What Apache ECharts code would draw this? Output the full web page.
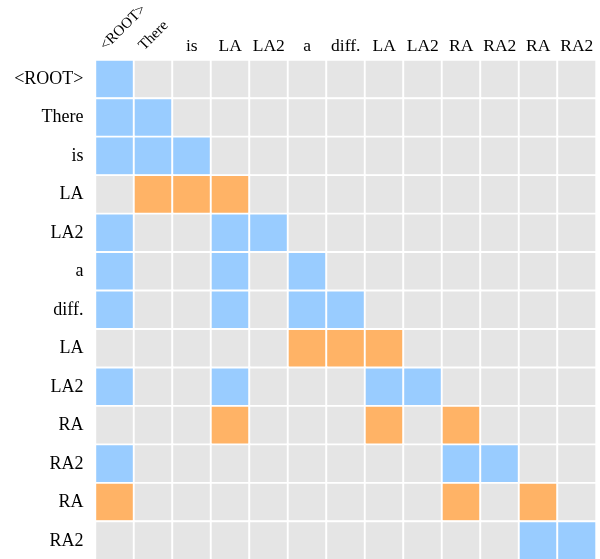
<!DOCTYPE html>
<html>
<head>
<meta charset="utf-8">
<script src="https://cdn.jsdelivr.net/npm/echarts@6/dist/echarts.min.js"></script>
<style>
html,body{margin:0;padding:0;background:#fff;}
#chart{width:600px;height:559px;}
</style>
</head>
<body>
<div id="chart"></div>
<script>
// Token labels (columns left-to-right, rows top-to-bottom)
var tokens = ['<ROOT>', 'There', 'is', 'LA', 'LA2', 'a', 'diff.', 'LA', 'LA2', 'RA', 'RA2', 'RA', 'RA2'];
// Indices of column labels drawn rotated
var rotatedCols = [0, 1];
// Cell kinds: 0 = empty, 1 = attend (blue), 2 = arc (orange)
var row0  = [1,0,0,0,0,0,0,0,0,0,0,0,0];
var row1  = [1,1,0,0,0,0,0,0,0,0,0,0,0];
var row2  = [1,1,1,0,0,0,0,0,0,0,0,0,0];
var row3  = [0,2,2,2,0,0,0,0,0,0,0,0,0];
var row4  = [1,0,0,1,1,0,0,0,0,0,0,0,0];
var row5  = [1,0,0,1,0,1,0,0,0,0,0,0,0];
var row6  = [1,0,0,1,0,1,1,0,0,0,0,0,0];
var row7  = [0,0,0,0,0,2,2,2,0,0,0,0,0];
var row8  = [1,0,0,1,0,0,0,1,1,0,0,0,0];
var row9  = [0,0,0,2,0,0,0,2,0,2,0,0,0];
var row10 = [1,0,0,0,0,0,0,0,0,1,1,0,0];
var row11 = [2,0,0,0,0,0,0,0,0,2,0,2,0];
var row12 = [0,0,0,0,0,0,0,0,0,0,0,1,1];
var rows = [row0,row1,row2,row3,row4,row5,row6,row7,row8,row9,row10,row11,row12];

var data = [];
rows.forEach(function (r, y) {
  r.forEach(function (v, x) { data.push([x, y, v]); });
});

var labelFont = {fontFamily: '"Liberation Serif", "Times New Roman", serif', color: '#000'};

var chart = echarts.init(document.getElementById('chart'), null, {renderer: 'canvas'});
chart.setOption({
  animation: false,
  backgroundColor: '#fff',
  grid: [
    {left: 95.5, top: 60, width: 500.5, height: 500, outerBoundsMode: 'none', containLabel: false},
    {left: 83.5, top: 60, width: 500.5, height: 500, outerBoundsMode: 'none', containLabel: false}
  ],
  xAxis: [
    {
      type: 'category', gridIndex: 0, position: 'top', data: tokens,
      axisLine: {show: false}, axisTick: {show: false}, splitLine: {show: false},
      axisLabel: Object.assign({
        interval: 0, fontSize: 17.5, margin: 5,
        formatter: function (v, i) { return rotatedCols.indexOf(i) >= 0 ? '' : v; }
      }, labelFont)
    },
    {
      type: 'category', gridIndex: 1, position: 'top', data: tokens,
      axisLine: {show: false}, axisTick: {show: false}, splitLine: {show: false},
      axisLabel: Object.assign({
        interval: 0, fontSize: 15, margin: 12, rotate: -45,
        formatter: function (v, i) { return rotatedCols.indexOf(i) >= 0 ? v : ''; }
      }, labelFont)
    }
  ],
  yAxis: [
    {
      type: 'category', gridIndex: 0, inverse: true, data: tokens,
      axisLine: {show: false}, axisTick: {show: false}, splitLine: {show: false},
      axisLabel: Object.assign({interval: 0, fontSize: 18, margin: 12}, labelFont)
    },
    {
      type: 'category', gridIndex: 1, inverse: true, data: tokens, show: false
    }
  ],
  visualMap: {
    show: false,
    type: 'piecewise',
    dimension: 2,
    seriesIndex: 0,
    pieces: [
      {value: 0, color: '#e5e5e5'},
      {value: 1, color: '#99ccff'},
      {value: 2, color: '#ffb366'}
    ]
  },
  series: [{
    type: 'heatmap',
    xAxisIndex: 0,
    yAxisIndex: 0,
    data: data,
    itemStyle: {borderColor: '#ffffff', borderWidth: 1.9},
    emphasis: {disabled: true}
  }]
});
</script>
</body>
</html>
